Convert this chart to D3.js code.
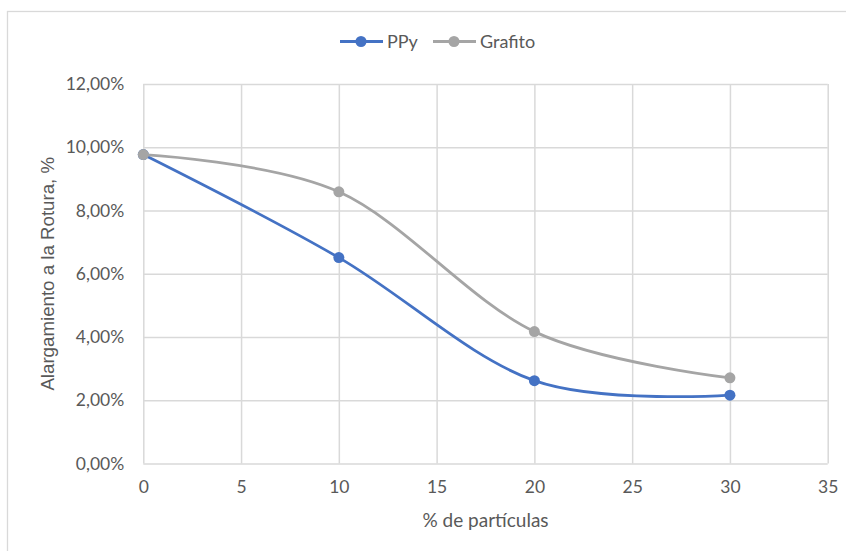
<!DOCTYPE html>
<html>
<head>
<meta charset="utf-8">
<script src="https://cdn.jsdelivr.net/npm/d3@7"></script>
<style>
  html, body { margin: 0; padding: 0; background: #fff; }
  svg { display: block; }
  .tick text { fill: #595959; font-family: Lato, "Liberation Sans", sans-serif; font-size: 17.5px; }
</style>
</head>
<body>
<svg id="chart" width="846" height="551"></svg>
<script>
// Particle content (%) on the x axis
const particulas = [0, 10, 20, 30];
// Elongation at break for each filler (fraction of 1)
const ppy = [0.0977, 0.0651, 0.0262, 0.0216];
const grafito = [0.0977, 0.0859, 0.0417, 0.0271];
const seriesNames = ["PPy", "Grafito"];
const seriesColors = ["#4472C4", "#A5A5A5"];
// Axis ticks
const xTicks = [0, 5, 10, 15, 20, 25, 30, 35];
const yTicks = [0, 0.02, 0.04, 0.06, 0.08, 0.10, 0.12];

const svg = d3.select("#chart");
const plot = { left: 143.3, right: 827.7, top: 84, bottom: 463.5 };

const esLocale = d3.formatLocale({ decimal: ",", thousands: ".", grouping: [3], currency: ["", " €"], percent: "%" });
const fmtPct = esLocale.format(".2%");

const x = d3.scaleLinear().domain([0, 35]).range([plot.left, plot.right]);
const y = d3.scaleLinear().domain([0, 0.12]).range([plot.bottom, plot.top]);

// Chart frame
svg.append("rect")
  .attr("x", 7.5).attr("y", 11.5)
  .attr("width", 900).attr("height", 600)
  .attr("fill", "#fff").attr("stroke", "#d9d9d9").attr("stroke-width", 1.3);

// Vertical grid + x labels
const xAxis = svg.append("g")
  .attr("transform", `translate(0,${plot.bottom})`)
  .call(d3.axisBottom(x).tickValues(xTicks).tickFormat(d3.format("d"))
    .tickSizeInner(-(plot.bottom - plot.top)).tickSizeOuter(0).tickPadding(17));
xAxis.select(".domain").remove();
xAxis.selectAll(".tick line").attr("stroke", "#d9d9d9").attr("stroke-width", 1.5);

// Horizontal grid + y labels
const yAxis = svg.append("g")
  .attr("transform", `translate(${plot.left},0)`)
  .call(d3.axisLeft(y).tickValues(yTicks).tickFormat(fmtPct)
    .tickSizeInner(-(plot.right - plot.left)).tickSizeOuter(0).tickPadding(19));
yAxis.select(".domain").remove();
yAxis.selectAll(".tick line").attr("stroke", "#d9d9d9").attr("stroke-width", 1.5);

// Axis titles
svg.append("text")
  .attr("x", (plot.left + plot.right) / 2).attr("y", 527)
  .attr("text-anchor", "middle")
  .attr("fill", "#595959")
  .style("font-family", "Lato, 'Liberation Sans', sans-serif").style("font-size", "19px")
  .text("% de partículas");

svg.append("text")
  .attr("transform", `translate(54,${(plot.top + plot.bottom) / 2}) rotate(-90)`)
  .attr("text-anchor", "middle")
  .attr("fill", "#595959")
  .style("font-family", "'Liberation Sans', Arial, sans-serif").style("font-size", "18.7px")
  .text("Alargamiento a la Rotura, %");

// Series (smoothed lines with circle markers); grey drawn after blue
const series = [
  { name: seriesNames[0], color: seriesColors[0], values: ppy },
  { name: seriesNames[1], color: seriesColors[1], values: grafito }
];
const line = d3.line()
  .x(d => x(d[0])).y(d => y(d[1]))
  .curve(d3.curveCardinal.tension(0));

series.forEach(s => {
  const pts = particulas.map((p, i) => [p, s.values[i]]);
  svg.append("path").datum(pts)
    .attr("d", line).attr("fill", "none")
    .attr("stroke", s.color).attr("stroke-width", 2.8)
    .attr("stroke-linecap", "round");
  svg.selectAll(null).data(pts).enter().append("circle")
    .attr("cx", d => x(d[0])).attr("cy", d => y(d[1]))
    .attr("r", 5.5).attr("fill", s.color);
});

// Legend
const legendItems = [
  { name: seriesNames[0], color: seriesColors[0], x0: 340 },
  { name: seriesNames[1], color: seriesColors[1], x0: 433 }
];
const legY = 41.5;
legendItems.forEach(it => {
  const g = svg.append("g");
  g.append("line").attr("x1", it.x0).attr("x2", it.x0 + 43)
    .attr("y1", legY).attr("y2", legY)
    .attr("stroke", it.color).attr("stroke-width", 2.8);
  g.append("circle").attr("cx", it.x0 + 21).attr("cy", legY).attr("r", 5.5).attr("fill", it.color);
  g.append("text").attr("x", it.x0 + 47).attr("y", legY + 6.5)
    .attr("fill", "#595959")
    .style("font-family", "Lato, 'Liberation Sans', sans-serif").style("font-size", "18px")
    .text(it.name);
});
</script>
</body>
</html>
